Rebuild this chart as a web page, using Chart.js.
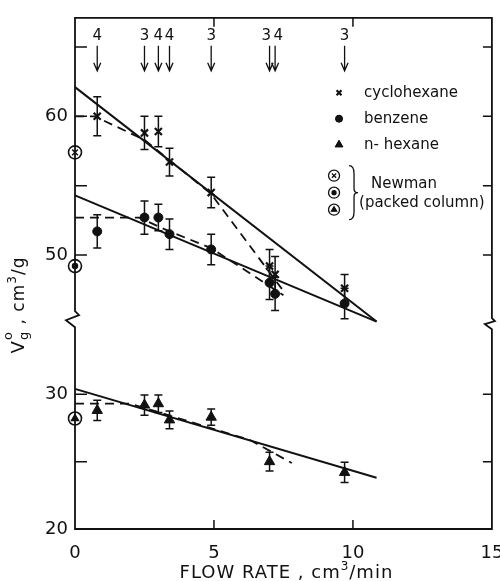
<!DOCTYPE html>
<html>
<head>
<meta charset="utf-8">
<script src="https://cdn.jsdelivr.net/npm/chart.js@4.4.1/dist/chart.umd.min.js"></script>
<style>
  html, body { margin: 0; padding: 0; background: #fff; }
  #wrap { width: 500px; height: 581px; }
</style>
</head>
<body>
<div id="wrap"><canvas id="chart"></canvas></div>
<script>
// flow rate (cm3/min) of each run and number of replicates (arrows on top)
const flowRates = [0.8, 2.5, 3.0, 3.4, 4.9, 7.0, 7.2, 9.7]
const replicates = ['4', '3', '4', '4', '3', '3', '4', '3']

// Vg0 (cm3/g) with error half-widths
const cyclohexane = [60.0, 58.8, 58.9, 56.7, 54.5, 49.2, 48.6, 47.6]
const cyclohexaneErr = [1.4, 1.2, 1.1, 1.0, 1.1, 1.2, 1.3, 1.0]
const benzene = [51.7, 52.7, 52.7, 51.5, 50.4, 48.0, 47.2, 46.5]
const benzeneErr = [1.2, 1.2, 0.95, 1.1, 1.1, 1.2, 1.2, 1.1]
const hexane = [28.8, 29.2, 29.3, 28.1, 28.3, 25.0, null, 24.2]
const hexaneErr = [0.75, 0.75, 0.65, 0.65, 0.6, 0.7, null, 0.75]

// Newman (packed column), at zero flow
const newmanCyclohexane = 57.4
const newmanBenzene = 49.2
const newmanHexane = 28.2

// straight (solid) fits
const fitX = [0, 10.85]
const cyclohexaneFit = [62.1, 45.2]
const benzeneFit = [54.3, 45.2]
const hexaneFit = [30.4, 23.8]

// hand-drawn (dashed) curves
const cyclohexaneDashX = [0, 0.7, 2.5, 4.9, 7.5]
const cyclohexaneDash = [60.0, 60.0, 58.3, 54.4, 47.4]
const benzeneDashX = [0, 2.3, 3.4, 4.9, 7.5]
const benzeneDash = [52.7, 52.7, 51.7, 50.5, 47.1]
const hexaneDashX = [0, 2.0, 6.3, 7.8]
const hexaneDash = [29.3, 29.3, 26.6, 24.9]

// axis ticks
const xTicks = [0, 5, 10, 15]
const yTopLabels = [50, 60]
const yBotLabels = [20, 30]

const INK = '#111'
const FONT = '"DejaVu Sans", sans-serif'

const pts = (xs, ys) => xs.map((x, i) => ({ x, y: ys[i] })).filter(p => p.y !== null)

const markerDataset = (label, ys, errs, axis, style) => ({
  label,
  data: pts(flowRates, ys),
  errors: errs.filter(e => e !== null),
  yAxisID: axis,
  showLine: false,
  clip: false,
  ...style,
})

const lineDataset = (xs, ys, axis, dash) => ({
  data: pts(xs, ys),
  yAxisID: axis,
  showLine: true,
  pointRadius: 0,
  borderColor: INK,
  borderWidth: dash ? 1.8 : 2,
  borderDash: dash ? [9, 6] : [],
  tension: 0,
  clip: false,
})

const cycloStyle = { pointStyle: 'crossRot', pointRadius: 5, borderColor: INK, borderWidth: 2.2, backgroundColor: INK }
const benzStyle = { pointStyle: 'circle', pointRadius: 4.5, borderColor: INK, borderWidth: 1, backgroundColor: INK }
const hexStyle = { pointStyle: 'triangle', pointRadius: 6, borderColor: INK, borderWidth: 1, backgroundColor: INK }

const ring = { pointStyle: 'circle', pointRadius: 6.5, borderColor: INK, borderWidth: 1.6, backgroundColor: '#fff', showLine: false, clip: false }
const dot = { borderColor: INK, backgroundColor: INK, borderWidth: 1.5, showLine: false, clip: false }

// tiny rich-text helper for super/subscripts
const richText = (ctx, parts, x, y, align) => {
  let total = 0
  parts.forEach(p => {
    ctx.font = `${p.size}px ${FONT}`
    p.w = p.stack ? 0 : ctx.measureText(p.t).width
    total += p.w
  })
  let cx = align === 'center' ? x - total / 2 : x
  parts.forEach(p => {
    ctx.font = `${p.size}px ${FONT}`
    ctx.fillText(p.t, cx, y + (p.dy || 0))
    cx += p.w
  })
}

const paperPlugin = {
  id: 'paper',
  beforeDatasetsDraw(chart) {
    const { ctx } = chart
    // error bars
    ctx.save()
    ctx.strokeStyle = INK
    ctx.lineWidth = 1.5
    chart.data.datasets.forEach((ds, i) => {
      if (!ds.errors) return
      const meta = chart.getDatasetMeta(i)
      const scale = chart.scales[ds.yAxisID]
      meta.data.forEach((el, j) => {
        const v = ds.data[j].y
        const e = ds.errors[j]
        const yTop = scale.getPixelForValue(v + e)
        const yBot = scale.getPixelForValue(v - e)
        ctx.beginPath()
        ctx.moveTo(el.x, yTop); ctx.lineTo(el.x, yBot)
        ctx.moveTo(el.x - 4, yTop); ctx.lineTo(el.x + 4, yTop)
        ctx.moveTo(el.x - 4, yBot); ctx.lineTo(el.x + 4, yBot)
        ctx.stroke()
      })
    })
    ctx.restore()
  },
  afterDraw(chart) {
    const { ctx, chartArea: a, scales } = chart
    const x = scales.x
    const brk = scales.yTop.bottom
    ctx.save()
    ctx.strokeStyle = INK
    ctx.fillStyle = INK
    ctx.lineWidth = 1.8

    // frame with breaks on both sides
    ctx.beginPath()
    ctx.moveTo(a.left, a.bottom)
    ctx.lineTo(a.left, brk + 7)
    ctx.lineTo(a.left - 9, brk)
    ctx.lineTo(a.left + 4, brk - 5)
    ctx.lineTo(a.left, brk - 9)
    ctx.lineTo(a.left, a.top)
    ctx.lineTo(a.right, a.top)
    ctx.lineTo(a.right, brk - 2)
    ctx.lineTo(a.right + 3, brk + 1)
    ctx.lineTo(a.right - 7, brk + 4)
    ctx.lineTo(a.right, brk + 9)
    ctx.lineTo(a.right, a.bottom)
    ctx.closePath()
    ctx.stroke()

    // inward tick marks
    ctx.lineWidth = 1.5
    ctx.beginPath()
    x.ticks.forEach(t => {
      if (t.value <= x.min || t.value >= x.max) return
      const px = x.getPixelForValue(t.value)
      ctx.moveTo(px, a.bottom); ctx.lineTo(px, a.bottom - 9)
      ctx.moveTo(px, a.top); ctx.lineTo(px, a.top + 9)
    })
    ;[scales.yTop, scales.yBot].forEach(s => {
      s.ticks.forEach(t => {
        if (t.value <= s.min || t.value >= s.max) return
        const py = s.getPixelForValue(t.value)
        ctx.moveTo(a.left, py); ctx.lineTo(a.left + 12, py)
        ctx.moveTo(a.right, py); ctx.lineTo(a.right - 9, py)
      })
    })
    ctx.stroke()

    // replicate arrows along the top
    const ax = flowRates.map(f => x.getPixelForValue(f))
    const lx = ax.slice()
    for (let i = 1; i < lx.length; i++) {
      if (lx[i] - lx[i - 1] < 11) {
        const mid = (lx[i] + lx[i - 1]) / 2
        lx[i - 1] = mid - 6
        lx[i] = mid + 6
      }
    }
    ctx.lineWidth = 1.3
    ax.forEach(px => {
      ctx.beginPath()
      ctx.moveTo(px, a.top + 28); ctx.lineTo(px, a.top + 53)
      ctx.moveTo(px - 3.5, a.top + 45); ctx.lineTo(px, a.top + 53); ctx.lineTo(px + 3.5, a.top + 45)
      ctx.stroke()
    })
    ctx.font = `15px ${FONT}`
    ctx.textAlign = 'center'
    ctx.textBaseline = 'alphabetic'
    replicates.forEach((r, i) => ctx.fillText(r, lx[i], a.top + 22))

    // key
    const kx = x.getPixelForValue(9.5)
    const ktx = kx + 25
    const ky = scales.yTop.getPixelForValue(61.7)
    const drawPoint = Chart.helpers.drawPoint
    const keyRows = [
      [cycloStyle, 'cyclohexane', 3.5],
      [benzStyle, 'benzene', 3.5],
      [hexStyle, 'n- hexane', 4.5],
    ]
    ctx.textAlign = 'left'
    ctx.textBaseline = 'middle'
    ctx.font = `15px ${FONT}`
    keyRows.forEach(([st, txt, r], i) => {
      const y = ky + i * 26
      ctx.lineWidth = st.borderWidth
      drawPoint(ctx, { pointStyle: st.pointStyle, radius: r, borderWidth: st.borderWidth }, kx, y)
      if (st.pointStyle !== 'crossRot') ctx.fill()
      ctx.fillText(txt, ktx, y)
    })
    const ny = ky + 3 * 26 + 5
    const inner = [
      { pointStyle: 'crossRot', radius: 3 },
      { pointStyle: 'circle', radius: 2 },
      { pointStyle: 'triangle', radius: 3 },
    ]
    inner.forEach((st, i) => {
      const y = ny + i * 17
      ctx.lineWidth = 1.3
      ctx.fillStyle = '#fff'
      ctx.beginPath(); ctx.arc(kx - 5, y, 5.5, 0, Math.PI * 2); ctx.fill(); ctx.stroke()
      ctx.fillStyle = INK
      drawPoint(ctx, { pointStyle: st.pointStyle, radius: st.radius, borderWidth: 1.3 }, kx - 5, y)
      if (st.pointStyle !== 'crossRot') ctx.fill()
    })
    // brace
    const bx = kx + 10
    ctx.lineWidth = 1.3
    ctx.beginPath()
    ctx.moveTo(bx, ny - 10)
    ctx.quadraticCurveTo(bx + 5, ny - 10, bx + 5, ny - 2)
    ctx.lineTo(bx + 5, ny + 13)
    ctx.quadraticCurveTo(bx + 5, ny + 17, bx + 9, ny + 17)
    ctx.quadraticCurveTo(bx + 5, ny + 17, bx + 5, ny + 21)
    ctx.lineTo(bx + 5, ny + 36)
    ctx.quadraticCurveTo(bx + 5, ny + 44, bx, ny + 44)
    ctx.stroke()
    ctx.fillText('Newman', bx + 22, ny + 8)
    ctx.fillText('(packed column)', bx + 10, ny + 27)

    // axis titles
    ctx.textBaseline = 'alphabetic'
    ctx.textAlign = 'left'
    ctx.letterSpacing = '1px'
    richText(ctx, [
      { t: 'FLOW RATE , cm', size: 18 },
      { t: '3', size: 12, dy: -8 },
      { t: '/min', size: 18 },
    ], (a.left + a.right) / 2 + 3, 578, 'center')

    ctx.translate(24, 305)
    ctx.rotate(-Math.PI / 2)
    richText(ctx, [
      { t: 'V', size: 18 },
      { t: 'o', size: 13, dy: -12, stack: true },
      { t: 'g', size: 13, dy: 4 },
      { t: ' , cm', size: 17 },
      { t: '3', size: 12, dy: -8 },
      { t: '/g', size: 17 },
    ], 0, 0, 'center')
    ctx.restore()
  },
}

const tickFont = { family: FONT, size: 18 }
const yGrid = { display: false, tickLength: 0 }

new Chart(document.getElementById('chart'), {
  type: 'scatter',
  data: {
    datasets: [
      // Newman symbols: inner marks first so they sit on top of the rings
      { data: [{ x: 0, y: newmanCyclohexane }], yAxisID: 'yTop', pointStyle: 'crossRot', pointRadius: 4, ...dot },
      { data: [{ x: 0, y: newmanBenzene }], yAxisID: 'yTop', pointStyle: 'circle', pointRadius: 2.5, ...dot },
      { data: [{ x: 0, y: newmanHexane }], yAxisID: 'yBot', pointStyle: 'triangle', pointRadius: 4, ...dot },
      { data: [{ x: 0, y: newmanCyclohexane }, { x: 0, y: newmanBenzene }], yAxisID: 'yTop', ...ring },
      { data: [{ x: 0, y: newmanHexane }], yAxisID: 'yBot', ...ring },
      markerDataset('cyclohexane', cyclohexane, cyclohexaneErr, 'yTop', cycloStyle),
      markerDataset('benzene', benzene, benzeneErr, 'yTop', benzStyle),
      markerDataset('n-hexane', hexane, hexaneErr, 'yBot', hexStyle),
      lineDataset(fitX, cyclohexaneFit, 'yTop', false),
      lineDataset(fitX, benzeneFit, 'yTop', false),
      lineDataset(fitX, hexaneFit, 'yBot', false),
      lineDataset(cyclohexaneDashX, cyclohexaneDash, 'yTop', true),
      lineDataset(benzeneDashX, benzeneDash, 'yTop', true),
      lineDataset(hexaneDashX, hexaneDash, 'yBot', true),
    ],
  },
  options: {
    responsive: true,
    maintainAspectRatio: false,
    animation: false,
    devicePixelRatio: 1,
    layout: { padding: { left: 35, top: 10, right: 8, bottom: 22 } },
    plugins: {
      legend: { display: false },
      tooltip: { enabled: false },
    },
    scales: {
      x: {
        type: 'linear',
        min: 0,
        max: 15,
        afterBuildTicks: (s) => { s.ticks = xTicks.map(v => ({ value: v })) },
        ticks: { font: tickFont, color: INK, padding: 6, autoSkip: false, maxRotation: 0 },
        grid: { display: false },
        border: { display: false },
        afterFit: (s) => { s.height = 30; s.paddingLeft = 0; s.paddingRight = 0 },
      },
      yBot: {
        type: 'linear',
        position: 'left',
        stack: 'v',
        stackWeight: 212,
        min: 20,
        max: 35.5,
        afterBuildTicks: (s) => { s.ticks = s.ticks.filter(t => t.value <= 30) },
        ticks: {
          stepSize: 5,
          includeBounds: false,
          autoSkip: false,
          font: tickFont,
          color: INK,
          padding: 7,
          callback: (v) => (yBotLabels.includes(v) ? v : ''),
        },
        grid: yGrid,
        border: { display: false },
        afterFit: (s) => { s.width = 40 },
      },
      yTop: {
        type: 'linear',
        position: 'left',
        stack: 'v',
        stackWeight: 307,
        min: 45.3,
        max: 67.1,
        ticks: {
          stepSize: 5,
          includeBounds: false,
          autoSkip: false,
          font: tickFont,
          color: INK,
          padding: 7,
          callback: (v) => (yTopLabels.includes(v) ? v : ''),
        },
        grid: yGrid,
        border: { display: false },
        afterFit: (s) => { s.width = 40 },
      },
    },
  },
  plugins: [paperPlugin],
})
</script>
</body>
</html>
